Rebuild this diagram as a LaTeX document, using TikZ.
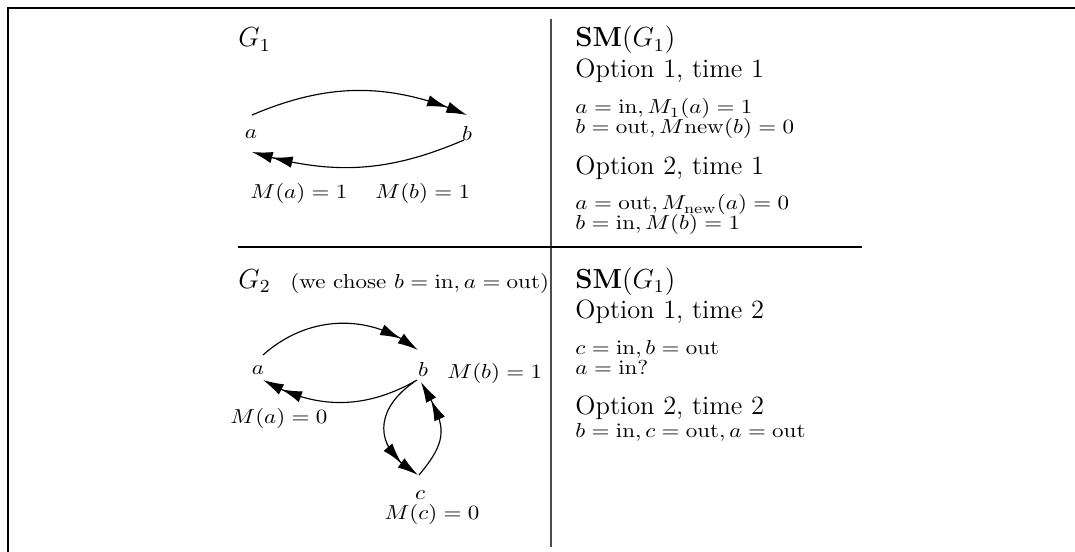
\documentclass[tikz,border=0pt]{standalone}
\usepackage{graphicx}
\usetikzlibrary{arrows.meta,bending}
\newcommand{\vsq}[1]{\scalebox{1}[0.88]{#1}}
\begin{document}
\begin{tikzpicture}[x=0.4348pt,y=-0.4348pt,
  lbl/.style={inner sep=0pt, font=\fontsize{10}{12}\selectfont},
  head/.style={inner sep=0pt, anchor=base west, font=\fontsize{11.5}{14}\selectfont},
  txt/.style={inner sep=0pt, anchor=base west, font=\fontsize{10}{12}\selectfont},
  arc/.style={line width=0.5pt, -{Latex[length=9pt,width=5pt] Latex[length=9pt,width=5pt]}},
  framel/.style={line width=0.9pt},
  divider/.style={line width=0.6pt}]
\useasboundingbox (0,0) rectangle (1075,552);
% frame and dividers
\draw[framel] (8,552) -- (8,8) -- (1075,8);
\draw[divider, black!70] (551,19) -- (551,547);
\draw[divider] (238,247) -- (862,247);

% ---- G1 ----
\node[head] (g1) at (238,47) {$G_1$};
\node[lbl] (a1) at (251,134) {\vsq{$a$}};
\node[lbl] (b1) at (467,133) {\vsq{$b$}};
\node[lbl, anchor=west] (ma1) at (250,193) {\vsq{$M(a)=1$}};
\node[lbl, anchor=west] (mb1) at (375,193) {\vsq{$M(b)=1$}};
\draw[arc] ([shift={(1,-19)}]a1.center) to[bend left=23] ([shift={(0,-18)}]b1.center);
\draw[arc] ([shift={(-3,7)}]b1.center) to[bend left=20] ([shift={(1,18)}]a1.center);

% ---- SM(G1) top ----
\node[head] (sm1) at (575,47) {$\mathbf{SM}(G_1)$};
\node[head] (o11) at (575,78) {Option 1, time 1};
\node[txt] (l1) at (575,114) {\vsq{$a=\mathrm{in}, M_1(a)=1$}};
\node[txt] (l2) at (575,134) {\vsq{$b=\mathrm{out}, M\mathrm{new}(b)=0$}};
\node[head] (o21) at (575,175) {Option 2, time 1};
\node[txt] (l3) at (575,210) {\vsq{$a=\mathrm{out}, M_{\mathrm{new}}(a)=0$}};
\node[txt] (l4) at (575,230) {\vsq{$b=\mathrm{in}, M(b)=1$}};

% ---- G2 ----
\node[head] (g2) at (238,288) {$G_2$};
\node[txt] (g2c) at (290,288) {\vsq{(we chose $b=\mathrm{in}, a=\mathrm{out}$)}};
\node[lbl] (a2) at (258,370) {\vsq{$a$}};
\node[lbl] (b2) at (423,369) {\vsq{$b$}};
\node[lbl] (c2) at (420,495) {\vsq{$c$}};
\node[lbl, anchor=west] (mb2) at (447,373) {\vsq{$M(b)=1$}};
\node[lbl, anchor=west] (ma2) at (230,418) {\vsq{$M(a)=0$}};
\node[lbl] (mc2) at (432,514) {\vsq{$M(c)=0$}};
\draw[arc] ([shift={(5,-15)}]a2.center) to[bend left=40] ([shift={(-5,-19)}]b2.center);
\draw[arc] ([shift={(-6,11)}]b2.center) to[bend left=30] ([shift={(5,10)}]a2.center);
\draw[arc] ([shift={(-9,13)}]b2.center) to[out=215,in=150,looseness=1.4] ([shift={(-2,-20)}]c2.center);
\draw[arc] ([shift={(-1,-20)}]c2.center) to[out=50,in=-60,looseness=1.35] ([shift={(-2,13)}]b2.center);

% ---- SM(G1) bottom ----
\node[head] (sm2) at (575,288) {$\mathbf{SM}(G_1)$};
\node[head] (o12) at (575,318) {Option 1, time 2};
\node[txt] (l5) at (575,354) {\vsq{$c=\mathrm{in}, b=\mathrm{out}$}};
\node[txt] (l6) at (575,374) {\vsq{$a=\mathrm{in}?$}};
\node[head] (o22) at (575,414) {Option 2, time 2};
\node[txt] (l7) at (575,437) {\vsq{$b=\mathrm{in}, c=\mathrm{out}, a=\mathrm{out}$}};
\end{tikzpicture}
\end{document}
